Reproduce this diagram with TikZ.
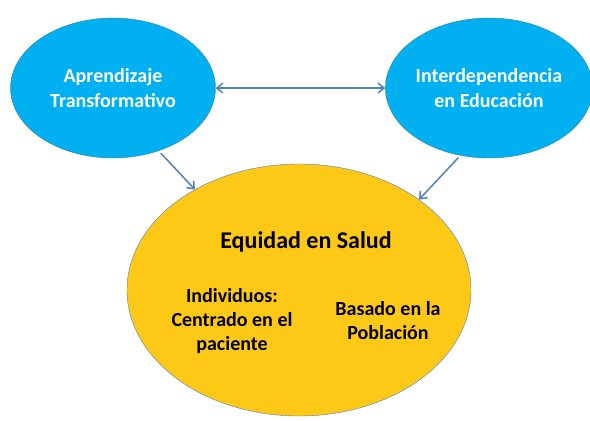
\documentclass[tikz,border=0pt]{standalone}
\usepackage{fontspec}
\setmainfont{Carlito}
\usetikzlibrary{shapes.geometric,arrows.meta}
\definecolor{cielo}{RGB}{0,176,240}
\definecolor{borde}{RGB}{60,130,140}
\definecolor{oro}{RGB}{253,201,22}
\definecolor{flecha}{RGB}{79,129,189}

\begin{document}
\begin{tikzpicture}[x=1pt,y=-1pt,
  idea/.style={ellipse,draw=borde,fill=cielo,text=white,inner sep=0pt,
    minimum width=205,minimum height=140,align=center,
    font=\bfseries\fontsize{20}{24.5}\selectfont},
  nucleo/.style={ellipse,draw=flecha,fill=oro,inner sep=0pt,
    minimum width=344,minimum height=252},
  texto/.style={align=center,font=\bfseries\fontsize{20}{24}\selectfont},
  enlace/.style={draw=flecha,line width=1.5pt,{Straight Barb[length=6pt,width=10pt]}-{Straight Barb[length=6pt,width=10pt]}},
  baja/.style={draw=flecha,line width=1.5pt,-{Straight Barb[length=6pt,width=10pt]}}]
\useasboundingbox (0,0) rectangle (590,421);
\node [idea] (apr) at (113,88) {Aprendizaje\\Transformativo};
\node [idea,minimum width=200] (int) at (489,88) {Interdependencia\\en Educación};
\node [nucleo] (salud) at (299,290) {};
\node [texto,font=\bfseries\fontsize{24}{28}\selectfont] (titulo) at (306,242) {Equidad en Salud};
\node [texto] (indiv) at (232,321) {Individuos:\\Centrado en el\\paciente};
\node [texto] (pobla) at (388,321) {Basado en la\\Población};
\draw [enlace] (apr) -- (int);
\draw [baja,shorten <=3pt] (apr.-54) -- (salud.136);
\draw [baja,shorten <=3pt] (int.-113) -- (salud.37);
\end{tikzpicture}
\end{document}
